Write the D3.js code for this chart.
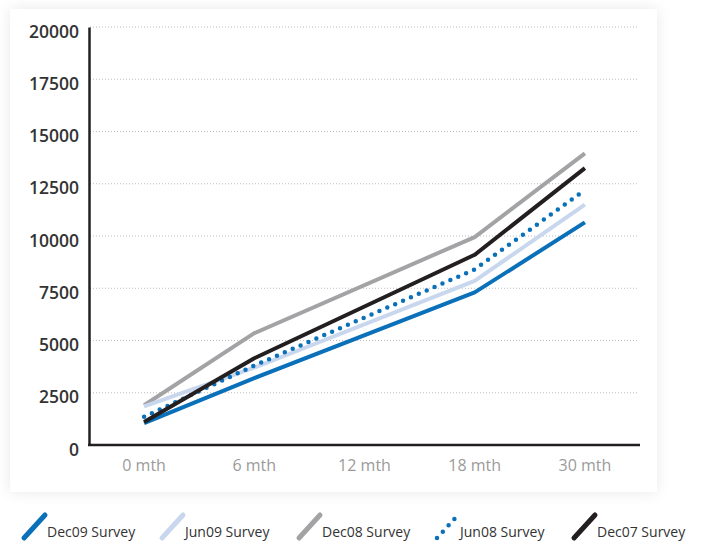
<!DOCTYPE html>
<html>
<head>
<meta charset="utf-8">
<script src="https://cdn.jsdelivr.net/npm/d3@7/dist/d3.min.js"></script>
<style>
	html, body { margin: 0; padding: 0; background: #fff; }
	#chart { width: 702px; height: 542px; }
	text { font-family: "Open Sans", sans-serif; }
</style>
</head>
<body>
<div id="chart"></div>
<script>
// data
var periods = ["0 mth", "6 mth", "12 mth", "18 mth", "30 mth"];
var yTicks = [0, 2500, 5000, 7500, 10000, 12500, 15000, 17500, 20000];
var seriesNames = ["Dec09 Survey", "Jun09 Survey", "Dec08 Survey", "Jun08 Survey", "Dec07 Survey"];
var dec09 = [1050, 3200, null, 7300, 10650];
var jun09 = [1850, 3700, null, 7850, 11500];
var dec08 = [1900, 5350, null, 9950, 13950];
var jun08 = [1350, 3800, null, 8400, 12200];
var dec07 = [1100, 4150, null, 9100, 13250];

var colors = ["#0a70b9", "#c8d7ee", "#a3a3a6", "#0a70b9", "#231f20"];
var dashed = [false, false, false, true, false];

var seriesValues = [dec09, jun09, dec08, jun08, dec07];
var series = seriesNames.map(function(name, i) {
	return {
		name: name,
		color: colors[i],
		dotted: dashed[i],
		values: periods.map(function(p, j) { return {period: p, value: seriesValues[i][j]}; })
	};
});
// draw order: light lines under dark ones
var drawOrder = [2, 1, 0, 3, 4];

var width = 702, height = 542;
var plot = {left: 89, right: 640, top: 27, bottom: 445};

var svg = d3.select("#chart").append("svg")
		.attr("width", width)
		.attr("height", height);

var defs = svg.append("defs");
var shadow = defs.append("filter")
		.attr("id", "shadow")
		.attr("x", "-10%").attr("y", "-10%")
		.attr("width", "120%").attr("height", "120%");
shadow.append("feDropShadow")
		.attr("dx", 0).attr("dy", 0)
		.attr("stdDeviation", 7)
		.attr("flood-color", "#000")
		.attr("flood-opacity", 0.09);

// card panel
svg.append("rect")
		.attr("x", 10)
		.attr("y", 9)
		.attr("width", 647)
		.attr("height", 483)
		.attr("fill", "#fff")
		.attr("filter", "url(#shadow)");

var xScale = d3.scaleBand()
		.domain(periods)
		.range([plot.left, plot.right]);

var yScale = d3.scaleLinear()
		.domain([0, 20000])
		.range([plot.bottom, plot.top]);

// grid lines
svg.append("g")
		.attr("class", "grid")
	.selectAll("line")
	.data(yTicks.filter(function(d) { return d > 0; }))
	.enter().append("line")
		.attr("x1", plot.left + 1)
		.attr("x2", plot.right - 2)
		.attr("y1", function(d) { return yScale(d); })
		.attr("y2", function(d) { return yScale(d); })
		.attr("stroke", "#bdbdbd")
		.attr("stroke-width", 1)
		.attr("stroke-dasharray", "1,2");

// y axis
var yAxis = svg.append("g")
		.attr("class", "y axis")
		.attr("transform", "translate(" + plot.left + ",0)")
		.call(d3.axisLeft(yScale).tickValues(yTicks).tickSize(0).tickPadding(10).tickFormat(d3.format("d")));

yAxis.select(".domain")
		.attr("stroke", "#231f20")
		.attr("stroke-width", 2.5);

yAxis.selectAll("text")
		.attr("dy", "0.35em")
		.attr("y", 4)
		.attr("fill", "#333")
		.style("font-size", "17.5px")
		.style("font-weight", 600);

// x axis
var xAxis = svg.append("g")
		.attr("class", "x axis")
		.attr("transform", "translate(0," + plot.bottom + ")")
		.call(d3.axisBottom(xScale).tickSize(0).tickPadding(0));

xAxis.select(".domain")
		.attr("d", "M" + (plot.left - 1) + ",0H" + plot.right)
		.attr("stroke", "#231f20")
		.attr("stroke-width", 2.5);

xAxis.selectAll("text")
		.attr("dy", null)
		.attr("y", 26)
		.attr("fill", "#9b9b9b")
		.style("font-size", "16px");

// lines
var line = d3.line()
		.defined(function(d) { return d.value != null; })
		.x(function(d) { return xScale(d.period) + xScale.bandwidth() / 2; })
		.y(function(d) { return yScale(d.value); });

svg.append("g")
		.attr("class", "chart-body")
	.selectAll("path")
	.data(drawOrder.map(function(i) { return series[i]; }))
	.enter().append("path")
		.attr("d", function(d) { return line(d.values.filter(line.defined())); })
		.attr("fill", "none")
		.attr("stroke", function(d) { return d.color; })
		.attr("stroke-width", function(d) { return d.dotted ? 4.5 : 4; })
		.attr("stroke-linecap", function(d) { return d.dotted ? "round" : "butt"; })
		.attr("stroke-linejoin", "round")
		.attr("stroke-dasharray", function(d) { return d.dotted ? "0,8.6" : null; });

// legend
var legendX = [22, 160, 297, 435, 572];
var legend = svg.append("g")
		.attr("class", "legend");

var legendGroup = legend.selectAll(".legend-group")
	.data(series)
	.enter().append("g")
		.attr("class", "legend-group")
		.attr("transform", function(d, i) { return "translate(" + legendX[i] + ",0)"; });

legendGroup.append("line")
		.attr("x1", 2)
		.attr("y1", 538)
		.attr("x2", 23)
		.attr("y2", 515)
		.attr("stroke", function(d) { return d.color; })
		.attr("stroke-width", function(d) { return d.dotted ? 4.5 : 5; })
		.attr("stroke-linecap", "round")
		.attr("stroke-dasharray", function(d) { return d.dotted ? "0,8.6" : null; });

legendGroup.append("text")
		.attr("x", 25)
		.attr("y", 537)
		.attr("fill", "#333")
		.style("font-size", "14px")
		.text(function(d) { return d.name; });
</script>
</body>
</html>
